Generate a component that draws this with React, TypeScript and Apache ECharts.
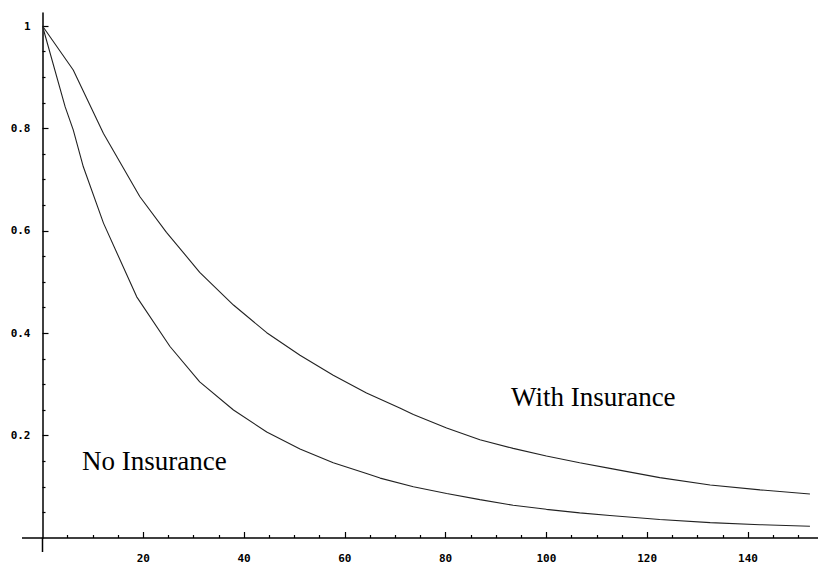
import React, { useEffect, useRef } from "react";
import * as echarts from "echarts";

const withInsuranceX = [0, 6.1, 12.1, 19.3, 24.6, 31.2, 37.9, 44.5, 51.1, 57.7, 64.3, 70.9, 73.6, 80.2, 86.8, 93.4, 100, 106.6, 112.6, 122.5, 132.5, 142.4, 152.3];
const withInsuranceY = [1, 0.914, 0.79, 0.667, 0.597, 0.519, 0.455, 0.401, 0.357, 0.318, 0.283, 0.254, 0.241, 0.215, 0.192, 0.175, 0.16, 0.147, 0.136, 0.118, 0.1035, 0.094, 0.086];

const noInsuranceX = [0, 4.5, 6.1, 8.1, 12.1, 18.7, 25.3, 31.2, 37.9, 44.5, 51.1, 57.7, 64.3, 67, 73.6, 80.2, 86.8, 93.4, 100, 106.6, 112.6, 122.5, 132.5, 142.4, 152.3];
const noInsuranceY = [1, 0.842, 0.797, 0.725, 0.615, 0.471, 0.374, 0.305, 0.25, 0.207, 0.174, 0.147, 0.126, 0.117, 0.1, 0.087, 0.075, 0.064, 0.056, 0.049, 0.044, 0.036, 0.03, 0.026, 0.023];

const xMajorTicks = [20, 40, 60, 80, 100, 120, 140];
const xMinorTicks = [5, 10, 15, 25, 30, 35, 45, 50, 55, 65, 70, 75, 85, 90, 95, 105, 110, 115, 125, 130, 135, 145, 150];
const yMajorTicks = [0.2, 0.4, 0.6, 0.8, 1];
const yMinorTicks = [0.05, 0.1, 0.15, 0.25, 0.3, 0.35, 0.45, 0.5, 0.55, 0.65, 0.7, 0.75, 0.85, 0.9, 0.95];

const zip = (xs: number[], ys: number[]) => xs.map((x, i) => [x, ys[i]]);

export default function App() {
  const ref = useRef<HTMLDivElement>(null);
  useEffect(() => {
    if (!ref.current) return;
    const chart = echarts.init(ref.current, null, { renderer: "svg" });
    const labelFont = { fontFamily: "DejaVu Sans Mono", fontWeight: "bold" as const, fontSize: 11, color: "#000" };
    const xRange = { min: 0, max: 153.9 };
    const yRange = { min: 0, max: 1.0254 };
    const originX = 42.5;
    const originY = 538;
    chart.setOption({
      animation: false,
      backgroundColor: "#fff",
      grid: { left: originX, right: 0, top: 13, bottom: 566 - originY, containLabel: false, outerBoundsMode: "none" },
      xAxis: [
        {
          type: "value", position: "bottom", ...xRange,
          axisLine: { show: true, onZero: false, lineStyle: { color: "#000", width: 1.5 } },
          axisTick: { show: true, inside: true, length: 6, customValues: xMajorTicks, lineStyle: { color: "#000", width: 1.2 } },
          axisLabel: { show: true, customValues: xMajorTicks, margin: 15, ...labelFont },
          splitLine: { show: false },
        },
        {
          type: "value", position: "bottom", ...xRange,
          axisLine: { show: false, onZero: false },
          axisTick: { show: true, inside: true, length: 3, customValues: xMinorTicks, lineStyle: { color: "#000", width: 1.2 } },
          axisLabel: { show: false },
          splitLine: { show: false },
        },
      ],
      yAxis: [
        {
          type: "value", position: "left", ...yRange,
          axisLine: { show: true, onZero: false, lineStyle: { color: "#000", width: 1.5 } },
          axisTick: { show: true, inside: true, length: 6, customValues: yMajorTicks, lineStyle: { color: "#000", width: 1.2 } },
          axisLabel: { show: true, customValues: yMajorTicks, margin: 12, ...labelFont },
          splitLine: { show: false },
        },
        {
          type: "value", position: "left", ...yRange,
          axisLine: { show: false, onZero: false },
          axisTick: { show: true, inside: true, length: 3, customValues: yMinorTicks, lineStyle: { color: "#000", width: 1.2 } },
          axisLabel: { show: false },
          splitLine: { show: false },
        },
      ],
      series: [
        {
          name: "With Insurance", type: "line", xAxisIndex: 0, yAxisIndex: 0,
          data: zip(withInsuranceX, withInsuranceY), showSymbol: false, symbol: "none",
          lineStyle: { color: "#222", width: 1.1 },
        },
        {
          name: "No Insurance", type: "line", xAxisIndex: 0, yAxisIndex: 0,
          data: zip(noInsuranceX, noInsuranceY), showSymbol: false, symbol: "none",
          lineStyle: { color: "#222", width: 1.1 },
        },
      ],
      graphic: [
        {
          type: "line", silent: true,
          shape: { x1: 22, y1: originY, x2: originX, y2: originY },
          style: { stroke: "#000", lineWidth: 1.5 },
        },
        {
          type: "line", silent: true,
          shape: { x1: originX, y1: originY, x2: originX, y2: 552 },
          style: { stroke: "#000", lineWidth: 1.5 },
        },
        {
          type: "text", left: 82, top: 447,
          style: { text: "No Insurance", font: "27px 'Liberation Serif'", fill: "#000" },
        },
        {
          type: "text", left: 511, top: 383,
          style: { text: "With Insurance", font: "27px 'Liberation Serif'", fill: "#000" },
        },
      ],
    });
    return () => chart.dispose();
  }, []);
  return <div ref={ref} style={{ position: "fixed", left: 0, top: 0, width: 818, height: 566 }} />;
}
